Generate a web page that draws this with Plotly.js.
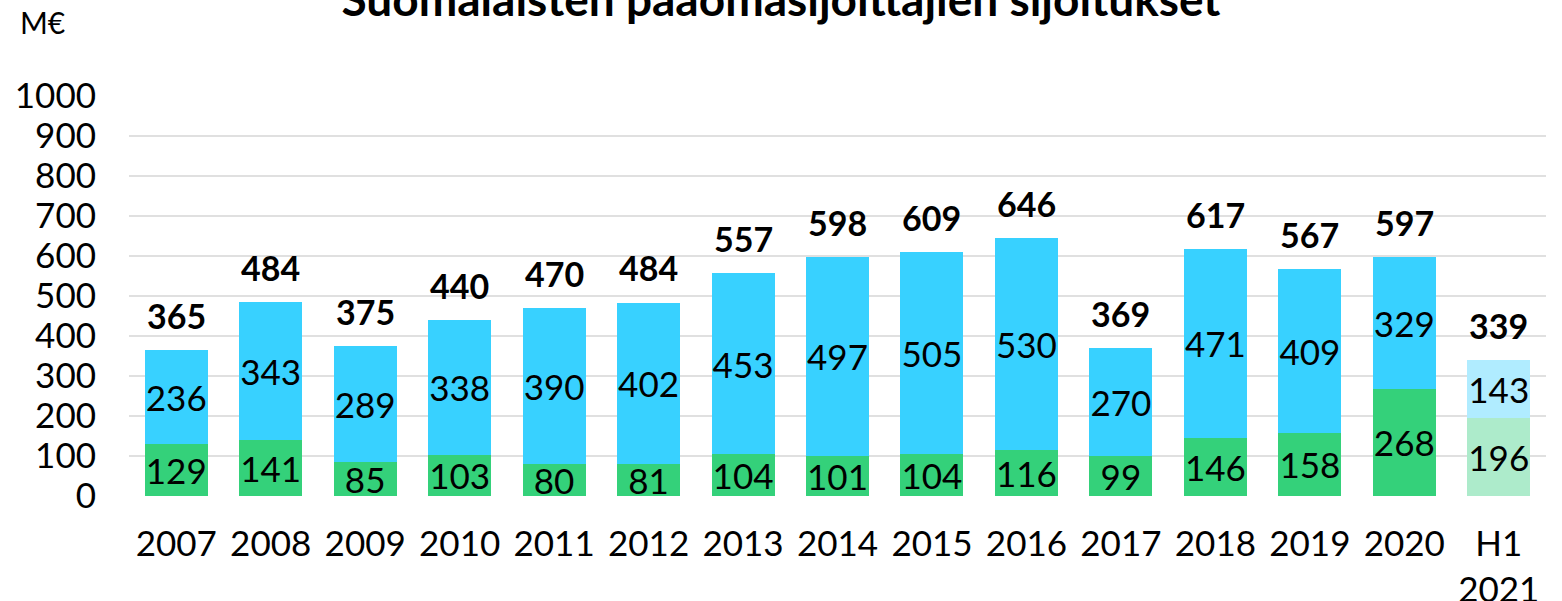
<!DOCTYPE html>
<html><head><meta charset="utf-8">
<script src="https://cdn.plot.ly/plotly-3.0.1.min.js"></script>
<style>html,body{margin:0;padding:0;background:#fff}</style>
</head><body>
<div id="chart" style="width:1562px;height:601px"></div>
<script>
const categories = ['2007','2008','2009','2010','2011','2012','2013','2014','2015','2016','2017','2018','2019','2020','H1<br>2021'];
const greenValues = [129,141,85,103,80,81,104,101,104,116,99,146,158,268,196];
const blueValues  = [236,343,289,338,390,402,453,497,505,530,270,471,409,329,143];
const totals      = [365,484,375,440,470,484,557,598,609,646,369,617,567,597,339];

const greenColors = categories.map((c,i)=> i===categories.length-1 ? '#ADEBCB' : '#34D17A');
const blueColors  = categories.map((c,i)=> i===categories.length-1 ? '#B0ECFF' : '#38D1FF');

const font = 'Lato, "Open Sans", sans-serif';

const traces = [
  {type:'bar', x:categories, y:greenValues, marker:{color:greenColors}, text:greenValues.map(String),
   textposition:'inside', insidetextanchor:'middle', constraintext:'none', textangle:0,
   textfont:{family:font,size:35,color:'#000'}, hoverinfo:'skip', cliponaxis:false},
  {type:'bar', x:categories, y:blueValues, marker:{color:blueColors}, text:blueValues.map(String),
   textposition:'inside', insidetextanchor:'middle', constraintext:'none', textangle:0,
   textfont:{family:font,size:35,color:'#000'}, hoverinfo:'skip', cliponaxis:false}
];

const annotations = totals.map((t,i)=>({
  x:i, y:t, xref:'x', yref:'y', text:'<b>'+t+'</b>', showarrow:false,
  yanchor:'bottom', yshift:12, font:{family:font,size:34,color:'#000'}
}));
annotations.push({xref:'paper',yref:'paper',x:-0.078,y:1.135,xanchor:'left',yanchor:'bottom',
  text:'M€',showarrow:false,font:{family:font,size:30,color:'#000'}});
annotations.push({xref:'paper',yref:'paper',x:-0.078,y:-0.243,xanchor:'left',yanchor:'top',
  text:'Lähde: Pääomasijoittajat ry',showarrow:false,font:{family:font,size:30,color:'#000'}});

const layout = {
  width:1562, height:601,
  margin:{l:129,r:16,t:96,b:105},
  barmode:'stack', bargap:0.333,
  showlegend:false,
  paper_bgcolor:'#fff', plot_bgcolor:'#fff',
  title:{text:'<b>Suomalaisten pääomasijoittajien sijoitukset</b>', x:0.5, xanchor:'center',
         y:1, yref:'container', yanchor:'middle', font:{family:font,size:46,color:'#000'}},
  xaxis:{type:'category', tickfont:{family:font,size:35,color:'#000'}, showgrid:false, zeroline:false,
         showline:false, ticks:'', ticklabelstandoff:24, fixedrange:true},
  yaxis:{range:[0,1000], dtick:100, tickfont:{family:font,size:35,color:'#000'}, showgrid:true,
         gridcolor:'#E0E0E0', gridwidth:2, zeroline:false, ticks:'', ticklabelstandoff:32, fixedrange:true},
  annotations:annotations
};

Plotly.newPlot('chart', traces, layout, {displayModeBar:false, staticPlot:true});
</script>
</body></html>
